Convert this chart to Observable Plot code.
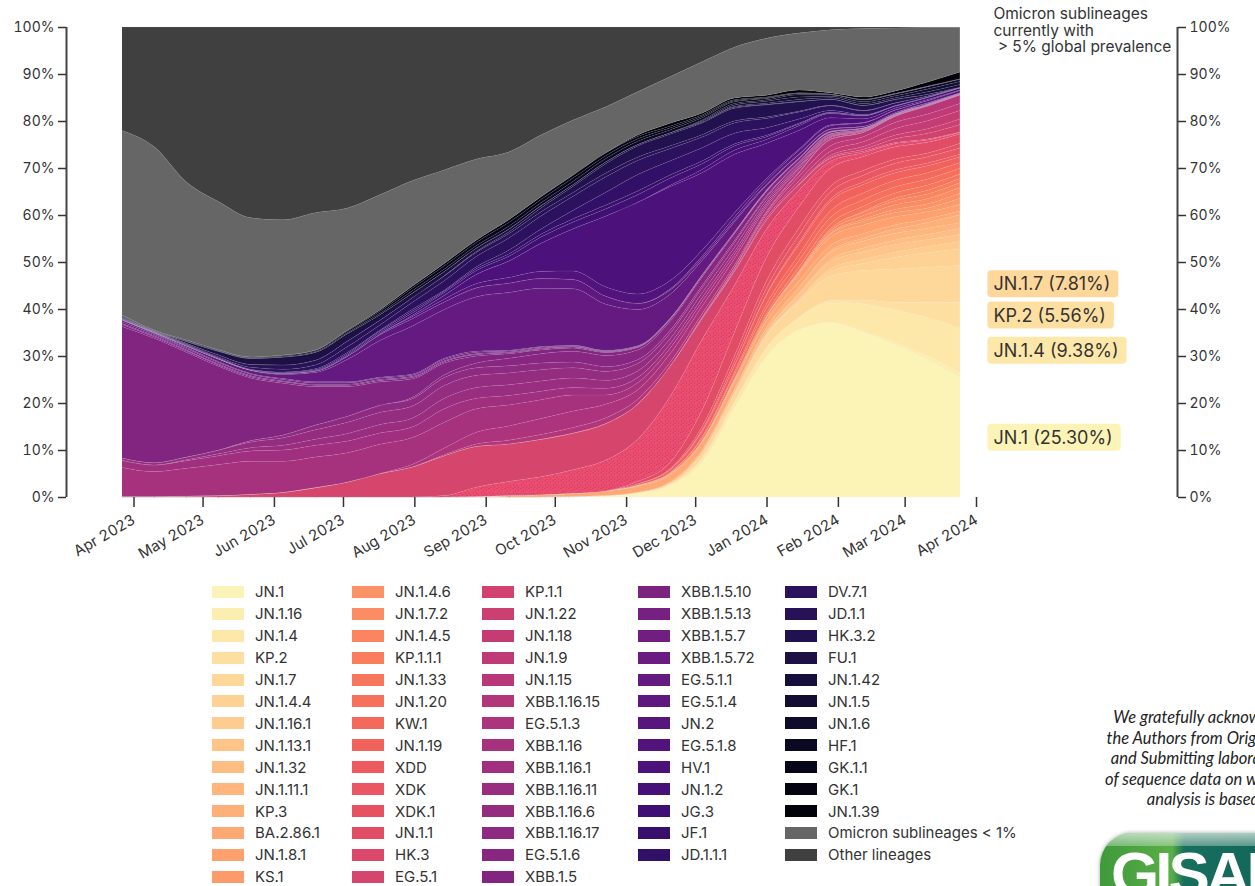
<!DOCTYPE html>
<html><head><meta charset="utf-8">
<script src="https://cdn.jsdelivr.net/npm/d3@7"></script>
<script src="https://cdn.jsdelivr.net/npm/@observablehq/plot@0.6"></script>
<style>
html,body{margin:0;padding:0;background:#fff;overflow:hidden;width:1255px;height:886px;}
#wrap{position:relative;width:1255px;height:886px;font-family:Inter,sans-serif;color:#333;overflow:hidden;}
#legend{position:absolute;left:212px;top:581px;display:flex;}
.col{display:flex;flex-direction:column;}
.item{display:flex;align-items:center;height:21.92px;font-size:15px;white-space:nowrap;color:#333;}
.sw{width:32px;height:12px;margin-right:11px;flex:none;}
#ack{position:absolute;left:1105px;top:707px;width:200px;text-align:center;font:italic 16.5px/20.5px Lato,sans-serif;color:#222;white-space:nowrap;}
#logo{position:absolute;left:1100px;top:833px;width:260px;height:90px;border-radius:32px;
background:linear-gradient(to right,#3f9a3a 0,#5aae48 72px,#176f5e 84px,#0c5d52 100%);
box-shadow:0 0 4px rgba(0,0,0,0.35);overflow:hidden;}
#logo .hl{position:absolute;left:0;top:0;width:100%;height:13px;background:linear-gradient(to bottom,rgba(225,238,230,0.75),rgba(225,238,230,0.35));}
#logo .tx{position:absolute;left:11px;top:6px;font:bold 62px/70px "Liberation Sans",Arial,sans-serif;color:#fff;letter-spacing:-4px;}
</style></head>
<body><div id="wrap"><div id="chart"></div><div id="legend"></div>
<div id="ack">We gratefully acknowledge<br>the Authors from Originating<br>and Submitting laboratories<br>of sequence data on which this<br>analysis is based.</div>
<div id="logo"><div class="hl"></div><div class="tx">GISAID</div></div>
</div>
<script>
const dates = ["2023-03-27","2023-04-10","2023-04-24","2023-05-08","2023-05-22","2023-06-05","2023-06-19","2023-07-03","2023-07-17","2023-07-31","2023-08-14","2023-08-28","2023-09-11","2023-09-25","2023-10-09","2023-10-23","2023-11-06","2023-11-20","2023-12-04","2023-12-18","2024-01-01","2024-01-15","2024-01-29","2024-02-12","2024-02-26","2024-03-11","2024-03-25"];

const JN_1       = [0,0,0,0,0,0,0,0,0,0, 0,0,0,0,0.1,0.3,0.8,2.5,7.5,19, 30,35.5,37,35,32.3,29.2,25.3];
const JN_1_16    = [0,0,0,0,0,0,0,0,0,0, 0,0,0,0,0,0,0,0,0,0, 0,0.1,0.2,0.3,0.5,0.8,1.2];
const JN_1_4     = [0,0,0,0,0,0,0,0,0,0, 0,0,0,0,0,0,0.1,0.2,0.8,1.2, 1.8,2.5,4.3,5.8,7.0,8.2,9.38];
const KP_2       = [0,0,0,0,0,0,0,0,0,0, 0,0,0,0,0,0,0,0,0,0, 0.05,0.1,0.3,0.8,1.6,3.2,5.56];
const JN_1_7     = [0,0,0,0,0,0,0,0,0,0, 0,0,0,0,0,0,0.1,0.3,1.2,1.8, 2.5,3.2,5.2,6.3,7.1,7.5,7.81];
const JN_1_4_4   = [0,0,0,0,0,0,0,0,0,0, 0,0,0,0,0,0,0,0,0,0, 0.15,0.3,1.0,1.5,2.5,3.1,3.5];
const JN_1_16_1  = [0,0,0,0,0,0,0,0,0,0, 0,0,0,0,0,0,0,0,0,0, 0.1,0.3,0.6,0.9,1.1,1.3,1.6];
const JN_1_13_1  = [0,0,0,0,0,0,0,0,0,0, 0,0,0,0,0,0,0,0,0.1,0.3, 0.6,1.1,1.5,1.6,1.6,1.5,1.5];
const JN_1_32    = [0,0,0,0,0,0,0,0,0,0, 0,0,0,0,0,0,0,0,0,0, 0,0.2,0.5,0.8,1.0,1.1,1.3];
const JN_1_11_1  = [0,0,0,0,0,0,0,0,0,0, 0,0,0,0,0,0,0,0.2,0.4,0.6, 0.9,1.3,1.5,1.5,1.4,1.3,1.2];
const KP_3       = [0,0,0,0,0,0,0,0,0,0, 0,0,0,0,0,0,0,0,0,0, 0,0,0.3,0.6,0.9,1.2,1.7];
const BA_2_86_1  = [0,0,0,0,0,0,0,0,0,0, 0,0.1,0.3,0.5,0.7,1.0,1.3,1.5,1.6,1.5, 1.4,1.3,1.2,1.0,0.9,0.8,0.8];
const JN_1_8_1   = [0,0,0,0,0,0,0,0,0,0, 0,0,0,0,0,0,0.2,0.3,0.4,0.6, 0.9,1.5,1.8,1.8,1.7,1.5,1.4];
const KS_1       = [0,0,0,0,0,0,0,0,0,0, 0,0,0,0,0,0,0,0,0,0, 0.1,0.3,0.6,0.8,0.9,0.8,1.3];
const JN_1_4_6   = [0,0,0,0,0,0,0,0,0,0, 0,0,0,0,0,0,0,0,0,0, 0,0,0.2,0.4,0.7,0.9,1.1];
const JN_1_7_2   = [0,0,0,0,0,0,0,0,0,0, 0,0,0,0,0,0,0,0,0,0, 0,0.2,0.5,0.8,1.0,1.1,1.2];
const JN_1_4_5   = [0,0,0,0,0,0,0,0,0,0, 0,0,0,0,0,0,0,0,0,0, 0,0.2,0.5,0.7,0.9,1.0,1.0];
const KP_1_1_1   = [0,0,0,0,0,0,0,0,0,0, 0,0,0,0,0,0,0,0,0,0, 0,0,0,0.2,0.5,0.8,0.9];
const JN_1_33    = [0,0,0,0,0,0,0,0,0,0, 0,0,0,0,0,0,0,0,0,0.2, 0.5,0.8,1.0,1.1,1.1,1.1,1.0];
const JN_1_20    = [0,0,0,0,0,0,0,0,0,0, 0,0,0,0,0,0,0,0.2,0.5,0.8, 1.2,1.4,1.4,1.4,1.3,1.3,1.2];
const KW_1       = [0,0,0,0,0,0,0,0,0,0, 0,0,0,0,0,0,0,0,0.3,0.5, 0.9,1.2,1.4,1.4,1.4,1.3,1.2];
const JN_1_19    = [0,0,0,0,0,0,0,0,0,0, 0,0,0,0,0,0,0.3,0.6,1.2,1.5, 1.9,2.2,2.0,1.8,1.6,1.5,1.2];
const XDD        = [0,0,0,0,0,0,0,0,0,0, 0,0,0,0,0,0,0,0,0,0, 0.2,0.4,0.5,0.6,0.6,0.6,0.6];
const XDK        = [0,0,0,0,0,0,0,0,0,0, 0,0,0,0,0,0,0,0,0.3,0.8, 1.3,1.6,1.5,1.4,1.4,1.3,1.3];
const XDK_1      = [0,0,0,0,0,0,0,0,0,0, 0,0,0,0,0,0,0,0.2,0.7,1.2, 1.5,1.5,1.2,1.0,0.9,0.8,1.0];
const JN_1_1     = [0,0,0,0,0,0,0,0,0,0, 0,0,0,0,0,0,0.5,1.3,3.5,5.0, 5.0,4.5,3.8,3.0,2.6,2.3,2.0];
const HK_3       = [0,0,0,0,0,0,0,0,0,0, 0.3,2.0,3.0,3.8,5.0,6.5,9.0,14,15,10, 6,3.5,1.5,0.8,0.7,0.5,0.3];
const EG_5_1     = [0.1,0.1,0.2,0.3,0.6,1.0,2.0,3.2,5.0,6.5, 8.5,8.7,8.0,8.0,7.8,7.8,7.5,6.5,4.5,3.0, 2.0,1.2,0.6,0.3,0.2,0.2,0.1];
const KP_1_1     = [0,0,0,0,0,0,0,0,0,0, 0,0,0,0,0,0,0,0,0,0, 0,0,0.2,0.4,0.8,1.2,1.6];
const JN_1_22    = [0,0,0,0,0,0,0,0,0,0, 0,0,0,0,0,0,0,0,0,0, 0,0.2,0.4,0.6,0.8,1.0,1.2];
const JN_1_18    = [0,0,0,0,0,0,0,0,0,0, 0,0,0,0,0,0,0,0,0,0.2, 0.4,0.6,0.9,1.0,1.4,1.7,1.8];
const JN_1_9     = [0,0,0,0,0,0,0,0,0,0, 0,0,0,0,0,0,0,0,0.2,0.4, 0.7,1.0,1.2,1.1,1.3,1.4,1.5];
const JN_1_15    = [0,0,0,0,0,0,0,0,0,0, 0,0,0,0,0,0,0,0,0.1,0.2, 0.4,0.7,1.3,0.9,1.3,1.7,1.8];
const XBB_1_16_15= [0,0,0,0,0,0,0,0,0,0, 0.2,0.5,0.8,1.0,1.2,1.2,1.0,0.8,0.7,0.5, 0.3,0.2,0.1,0.05,0.03,0.03,0.03];
const EG_5_1_3   = [0,0,0,0,0,0,0,0,0,0.5, 1.4,2.5,3.0,3.4,3.5,2.9,2.0,1.8,1.6,1.4, 0.9,0.6,0.3,0.2,0.1,0.1,0.05];
const XBB_1_16   = [6.2,5.3,5.9,6.6,7.0,6.6,6.5,6.2,6.2,5.8, 5.5,5.0,4.5,4.0,3.4,2.0,1.5,1.2,1.0,0.8, 0.5,0.3,0.2,0.1,0.05,0.05,0.03];
const XBB_1_16_1 = [1.5,1.4,1.6,1.9,2.2,2.4,2.5,2.5,2.4,2.3, 2.9,2.2,2.0,1.8,1.6,1.4,1.1,0.9,0.8,0.7, 0.4,0.3,0.15,0.1,0.05,0.05,0.03];
const XBB_1_16_11= [0,0,0.2,0.4,0.7,1.0,1.3,1.6,1.8,1.9, 2.2,2.3,2.3,2.2,2.0,1.7,1.4,1.1,1.0,0.9, 0.6,0.4,0.2,0.1,0.07,0.05,0.03];
const XBB_1_16_6 = [0.5,0.5,0.6,0.8,1.2,1.6,2.0,2.4,2.6,2.6, 2.7,2.6,2.5,2.4,2.2,1.9,1.6,1.2,1.1,1.0, 0.6,0.4,0.2,0.1,0.07,0.05,0.03];
const XBB_1_16_17= [0,0,0,0,0.3,0.6,1.0,1.3,1.5,1.6, 1.7,1.6,1.5,1.4,1.2,1.0,0.8,0.6,0.5,0.4, 0.3,0.2,0.1,0.05,0.04,0.03,0.02];
const EG_5_1_6   = [0,0,0,0,0,0,0,0,0,0.3, 0.6,1.0,1.6,2.0,2.3,2.4,2.1,1.9,1.8,1.5, 0.9,0.6,0.3,0.15,0.08,0.05,0.02];
const XBB_1_5    = [28.0,26.5,22.3,17.8,13.3,11.0,8.2,6.3,5.0,4.0, 2.5,1.5,1.0,0.8,0.7,0.6,0.5,0.4,0.3,0.2, 0.15,0.1,0.1,0.08,0.06,0.05,0.05];
const XBB_1_5_10 = [0.4,0.3,0.3,0.3,0.3,0.3,0.3,0.3,0.3,0.3, 0.3,0.3,0.2,0.2,0.2,0.15,0.1,0.1,0.05,0.05, 0.05,0.03,0.03,0.02,0.02,0.01,0.02];
const XBB_1_5_13 = [0.2,0.2,0.2,0.2,0.2,0.2,0.2,0.2,0.2,0.2, 0.2,0.2,0.15,0.15,0.1,0.1,0.1,0.05,0.05,0.05, 0.05,0.02,0.02,0.02,0.01,0.01,0.02];
const XBB_1_5_7  = [0.4,0.3,0.3,0.3,0.3,0.3,0.3,0.3,0.3,0.3, 0.3,0.3,0.2,0.2,0.2,0.15,0.1,0.1,0.05,0.05, 0.05,0.03,0.03,0.02,0.02,0.02,0.02];
const XBB_1_5_72 = [0.3,0.2,0.2,0.2,0.2,0.2,0.2,0.2,0.2,0.2, 0.2,0.2,0.15,0.15,0.1,0.1,0.1,0.05,0.05,0.05, 0.05,0.02,0.02,0.02,0.01,0.01,0.02];
const EG_5_1_1   = [0.15,0.15,0.3,0.5,0.6,0.9,2.0,4.8,7.8,10.4, 10.4,11.6,12.3,12.4,12.0,9.8,7.7,5.1,3.0,2.1, 1.0,0.7,0.4,0.25,0.17,0.17,0.05];
const EG_5_1_4   = [0.05,0.05,0.1,0.1,0.1,0.2,0.3,0.7,1.2,1.6, 1.6,1.9,2.0,2.1,2.0,1.7,1.3,0.9,0.5,0.4, 0.2,0.1,0.1,0.05,0.03,0.03,0.02];
const JN_2       = [0,0,0,0,0,0,0,0,0,0, 0,0,0,0,0,0,0,0.2,0.4,0.6, 0.7,0.8,0.7,0.7,0.5,0.45,0.5];
const EG_5_1_8   = [0,0,0,0,0,0,0,0,0.2,0.4, 0.6,0.9,1.2,1.5,1.8,2.0,2.0,1.8,1.3,0.9, 0.5,0.3,0.15,0.1,0.05,0.05,0.02];
const HV_1       = [0,0,0,0,0,0,0,0,0,0.3, 0.8,2.0,3.5,6.0,9.0,15.0,19.5,20.0,16.5,12.5, 7.5,4.0,1.5,0.8,0.4,0.2,0.1];
const JN_1_2     = [0,0,0,0,0,0,0,0,0,0, 0,0,0,0,0,0,0,0.3,0.7,0.9, 0.8,1.0,0.9,0.6,0.4,0.42,0.4];
const JG_3       = [0,0,0,0,0,0,0.1,0.2,0.3,0.5, 0.6,0.8,1.0,1.3,1.4,1.5,1.6,1.5,1.2,0.9, 0.6,0.3,0.15,0.1,0.05,0.03,0.02];
const JF_1       = [0.1,0.05,0.1,0.1,0.1,0.15,0.2,0.3,0.3,0.4, 0.3,0.4,0.5,0.6,0.7,0.8,0.8,0.7,0.6,0.4, 0.3,0.2,0.1,0.05,0.03,0.02,0.02];
const JD_1_1_1   = [0.1,0.05,0.1,0.1,0.1,0.15,0.2,0.3,0.2,0.4, 0.2,0.4,0.8,1.1,1.8,2.7,3.5,3.0,2.8,2.3, 1.6,0.9,0.4,0.15,0.07,0.05,0.02];
const DV_7_1     = [0.1,0.05,0.1,0.2,0.4,0.6,0.8,1.2,1.1,1.5, 2.0,2.2,2.6,2.8,3.0,3.3,3.0,2.6,2.3,2.2, 2.0,1.5,1.0,0.8,0.5,0.2,0.03];
const JD_1_1     = [0.1,0.05,0.2,0.4,0.6,0.9,1.0,1.2,1.0,1.0, 1.0,0.9,0.9,0.9,0.8,0.8,0.7,0.6,0.5,0.4, 0.3,0.2,0.1,0.1,0.05,0.03,0.02];
const HK_3_2     = [0,0,0,0,0,0,0,0,0,0, 0.1,0.2,0.4,0.8,1.3,2.0,2.4,2.5,2.5,2.7, 2.6,2.0,1.25,1.05,0.72,0.35,0.05];
const FU_1       = [0.2,0.1,0.4,0.8,1.3,1.7,1.7,1.6,1.2,1.0, 0.9,0.7,0.6,0.5,0.4,0.4,0.3,0.3,0.2,0.2, 0.1,0.1,0.05,0.05,0.03,0.02,0.01];
const JN_1_42    = [0,0,0,0,0,0,0,0,0,0, 0,0,0,0,0,0,0,0,0,0.2, 0.25,0.4,0.3,0.35,0.35,0.5,0.6];
const JN_1_5     = [0,0,0,0,0,0,0,0,0,0, 0,0,0,0,0,0,0,0,0.2,0.3, 0.4,0.5,0.3,0.4,0.4,0.6,0.6];
const JN_1_6     = [0,0,0,0,0,0,0,0,0,0, 0,0,0,0,0,0,0,0,0.2,0.3, 0.3,0.5,0.3,0.4,0.4,0.5,0.5];
const HF_1       = [0.1,0.05,0.1,0.1,0.1,0.15,0.15,0.2,0.3,0.5, 0.5,0.5,0.6,0.6,0.7,0.7,0.7,0.6,0.5,0.4, 0.3,0.2,0.1,0.05,0.03,0.02,0.02];
const GK_1_1     = [0.1,0.1,0.1,0.1,0.1,0.15,0.2,0.3,0.4,0.6, 0.7,0.7,0.8,0.7,0.7,0.6,0.5,0.4,0.3,0.2, 0.15,0.1,0.05,0.05,0.05,0.05,0.05];
const GK_1       = [0.1,0.05,0.1,0.1,0.1,0.1,0.15,0.2,0.3,0.4, 0.5,0.5,0.6,0.6,0.6,0.6,0.5,0.4,0.3,0.2, 0.15,0.1,0.05,0.05,0.05,0.05,0.05];
const JN_1_39    = [0,0,0,0,0,0,0,0,0,0, 0,0,0,0,0,0,0.3,0.6,0.4,0.4, 0.4,0.6,0.25,0.44,0.5,0.88,1.4];
const OMICRON_LT1= [39.3,39,33.6,31.5,29.6,28.8,29.2,26,24.5,22.8, 19.9,17.2,14.4,13.1,11.7,9.8,9.2,9.9,10.9,10.8, 12.1,12.1,13.4,14.6,13.4,11.6,9.5];
const OTHER      = [22,25.5,33,37.2,40.6,41,39.5,38.5,35.7,33.2, 30.4,28.1,26.6,23,19.8,17,13.8,10.6,7.4,4.3, 2.4,1.3,0.6,0.3,0.2,0.1,0.1];

const lineages = ["JN.1","JN.1.16","JN.1.4","KP.2","JN.1.7","JN.1.4.4","JN.1.16.1","JN.1.13.1","JN.1.32","JN.1.11.1","KP.3","BA.2.86.1","JN.1.8.1","KS.1",
"JN.1.4.6","JN.1.7.2","JN.1.4.5","KP.1.1.1","JN.1.33","JN.1.20","KW.1","JN.1.19","XDD","XDK","XDK.1","JN.1.1","HK.3","EG.5.1",
"KP.1.1","JN.1.22","JN.1.18","JN.1.9","JN.1.15","XBB.1.16.15","EG.5.1.3","XBB.1.16","XBB.1.16.1","XBB.1.16.11","XBB.1.16.6","XBB.1.16.17","EG.5.1.6","XBB.1.5",
"XBB.1.5.10","XBB.1.5.13","XBB.1.5.7","XBB.1.5.72","EG.5.1.1","EG.5.1.4","JN.2","EG.5.1.8","HV.1","JN.1.2","JG.3","JF.1","JD.1.1.1",
"DV.7.1","JD.1.1","HK.3.2","FU.1","JN.1.42","JN.1.5","JN.1.6","HF.1","GK.1.1","GK.1","JN.1.39","Omicron sublineages < 1%","Other lineages"];
const seriesValues = [JN_1,JN_1_16,JN_1_4,KP_2,JN_1_7,JN_1_4_4,JN_1_16_1,JN_1_13_1,JN_1_32,JN_1_11_1,KP_3,BA_2_86_1,JN_1_8_1,KS_1,
JN_1_4_6,JN_1_7_2,JN_1_4_5,KP_1_1_1,JN_1_33,JN_1_20,KW_1,JN_1_19,XDD,XDK,XDK_1,JN_1_1,HK_3,EG_5_1,
KP_1_1,JN_1_22,JN_1_18,JN_1_9,JN_1_15,XBB_1_16_15,EG_5_1_3,XBB_1_16,XBB_1_16_1,XBB_1_16_11,XBB_1_16_6,XBB_1_16_17,EG_5_1_6,XBB_1_5,
XBB_1_5_10,XBB_1_5_13,XBB_1_5_7,XBB_1_5_72,EG_5_1_1,EG_5_1_4,JN_2,EG_5_1_8,HV_1,JN_1_2,JG_3,JF_1,JD_1_1_1,
DV_7_1,JD_1_1,HK_3_2,FU_1,JN_1_42,JN_1_5,JN_1_6,HF_1,GK_1_1,GK_1,JN_1_39,OMICRON_LT1,OTHER];
const speckled = ["HK.3"];

const nLin = 66;
const colors = lineages.map((d, i) => i < nLin ? d3.interpolateMagma(0.98 - 0.96 * i / (nLin - 1)) : (i === nLin ? "#666666" : "#404040"));

const table = [];
lineages.forEach((name, k) => seriesValues[k].forEach((v, i) => table.push({date: new Date(dates[i]), lineage: name, value: v})));

const last = dates.length - 1;
const lastDate = new Date(dates[last]);
const total = d3.sum(seriesValues, a => a[last]);
let cum = 0;
const labels = [];
lineages.forEach((name, k) => {
  const v = seriesValues[k][last];
  if (k < nLin && v > 5) labels.push({name, v, yc: (cum + v / 2) / total, color: colors[k], text: `${name} (${v.toFixed(2)}%)`});
  cum += v;
});

const x0 = new Date("2023-03-27"), x1 = new Date("2024-04-01");
const pctFmt = d => Math.round(d * 100) + "%";
const monthTicks = d3.utcMonth.range(new Date("2023-04-01"), new Date("2024-04-02"));

const chart = Plot.plot({
  width: 1255, height: 575,
  marginLeft: 122, marginRight: 279, marginTop: 27, marginBottom: 78,
  style: {fontFamily: "Inter, sans-serif", fontSize: "14px", color: "#333", background: "white", overflow: "visible"},
  x: {type: "utc", domain: [x0, x1]},
  y: {domain: [0, 1]},
  color: {domain: lineages, range: colors},
  marks: [
    Plot.areaY(table, {x: "date", y: "value", z: "lineage", fill: "lineage", order: lineages, offset: "normalize", curve: "monotone-x",
      stroke: "#dddddd", strokeOpacity: 0.14, strokeWidth: 0.5}),
    Plot.ruleX([x0], {y1: 0, y2: 1, dx: -56, stroke: "#444", strokeWidth: 2}),
    Plot.ruleX([x1], {y1: 0, y2: 1, dx: 201, stroke: "#444", strokeWidth: 2}),
    Plot.axisY({anchor: "left", dx: -56, ticks: 10, tickFormat: pctFmt, tickSize: 8, tickPadding: 4, strokeWidth: 1.5, color: "#333", fontSize: 14}),
    Plot.axisY({anchor: "right", dx: 201, ticks: 10, tickFormat: pctFmt, tickSize: 8, tickPadding: 4, strokeWidth: 1.5, color: "#333", fontSize: 14}),
    Plot.axisX({ticks: monthTicks, tickFormat: d3.utcFormat("%b %Y"), tickRotate: -30, tickSize: 10, tickPadding: 11, strokeWidth: 1.5, color: "#333", fontSize: 15}),
    Plot.text(labels, {x: () => lastDate, y: "yc", text: "text", dx: 33, textAnchor: "start", fontSize: 18, fill: "#333"}),
    Plot.text([0], {x: () => lastDate, y: () => 1, text: () => "Omicron sublineages\ncurrently with\n\u00a0> 5% global prevalence",
      dx: 33, dy: -20, textAnchor: "start", lineAnchor: "top", lineHeight: 1.07, fontSize: 15.5, fill: "#333"})
  ]
});
document.getElementById("chart").append(chart);

const svgNS = "http://www.w3.org/2000/svg";

// speckle texture for patterned lineages
const defs = document.createElementNS(svgNS, "defs");
chart.insertBefore(defs, chart.firstChild);
speckled.forEach((name, si) => {
  const fillStr = colors[lineages.indexOf(name)];
  const base = d3.color(fillStr);
  const pat = document.createElementNS(svgNS, "pattern");
  pat.setAttribute("id", "speck" + si); pat.setAttribute("patternUnits", "userSpaceOnUse");
  pat.setAttribute("width", 8); pat.setAttribute("height", 8);
  const bg = document.createElementNS(svgNS, "rect");
  bg.setAttribute("width", 8); bg.setAttribute("height", 8); bg.setAttribute("fill", base.brighter(0.2).formatHex());
  pat.append(bg);
  [[0,0,2,1],[3,2,1,2],[5,1,2,1],[1,4,1,2],[4,5,2,1],[6,6,1,2],[2,7,2,1]].forEach(([x, y, w, h]) => {
    const r = document.createElementNS(svgNS, "rect");
    r.setAttribute("x", x); r.setAttribute("y", y); r.setAttribute("width", w); r.setAttribute("height", h);
    r.setAttribute("fill", base.darker(0.12).formatHex());
    pat.append(r);
  });
  defs.append(pat);
  chart.querySelectorAll("path").forEach(p => { if (p.getAttribute("fill") === fillStr) p.setAttribute("fill", `url(#speck${si})`); });
});

// rounded label boxes behind the prevalence labels
chart.querySelectorAll("text").forEach(t => {
  const lab = labels.find(l => l.text === t.textContent);
  if (!lab) return;
  const b = t.getBBox();
  const r = document.createElementNS(svgNS, "rect");
  r.setAttribute("x", b.x - 6); r.setAttribute("y", b.y - 3);
  r.setAttribute("width", b.width + 14); r.setAttribute("height", b.height + 6);
  r.setAttribute("rx", 4); r.setAttribute("fill", lab.color);
  if (t.getAttribute("transform")) r.setAttribute("transform", t.getAttribute("transform"));
  t.parentNode.insertBefore(r, t);
});

// legend
const legend = document.getElementById("legend");
const perCol = [14, 14, 14, 13, 13];
const colW = [140, 130, 156, 147, 260];
let k = 0;
perCol.forEach((cnt, c) => {
  const col = document.createElement("div");
  col.className = "col"; col.style.width = colW[c] + "px";
  for (let j = 0; j < cnt; j++, k++) {
    const it = document.createElement("div"); it.className = "item";
    const sw = document.createElement("span"); sw.className = "sw"; sw.style.background = colors[k];
    const tx = document.createElement("span"); tx.textContent = lineages[k];
    it.append(sw, tx); col.append(it);
  }
  legend.append(col);
});
</script>
</body></html>
